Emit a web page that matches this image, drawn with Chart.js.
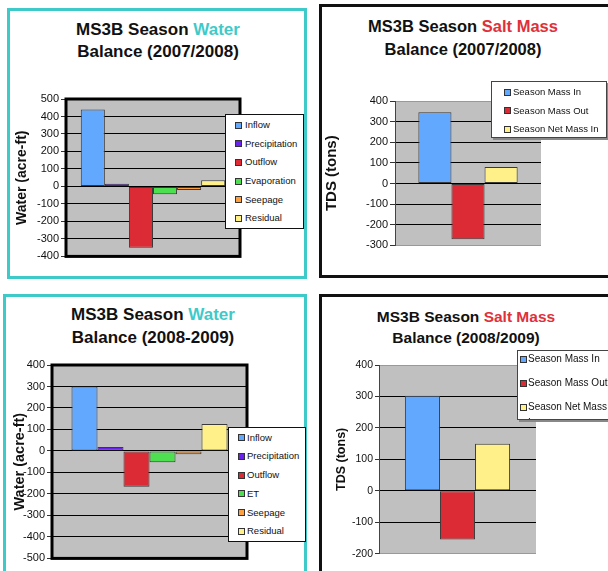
<!DOCTYPE html>
<html>
<head>
<meta charset="utf-8">
<script src="https://cdn.jsdelivr.net/npm/chart.js@4.4.1/dist/chart.umd.min.js"></script>
<style>
    body { margin: 0; background: #fff; font-family: 'Liberation Sans', Arial, sans-serif; }
    #page { position: relative; width: 608px; height: 571px; overflow: hidden; background: #fff; }
    .panel { position: absolute; box-sizing: border-box; border: 3px solid #111; }
    .panel.water { border-color: #3fcaca; }
    .title { position: absolute; text-align: center; font-weight: bold; color: #111; white-space: nowrap; }
    .title .water { color: #3fcaca; }
    .title .salt { color: #e0303a; }
    canvas { position: absolute; }
    .legend { position: absolute; box-sizing: border-box; background: #fff; border: 1px solid #111; overflow: hidden; z-index: 5; font-size: 9.5px; color: #111; }
    .legend.shadow { box-shadow: 2px 2px 0 #888; border-color: #444; }
    .legend .item { position: relative; }
    .legend .swatch { position: absolute; width: 5px; height: 5px; border: 1px solid #333; }
    .legend .text { position: absolute; white-space: normal; }
</style>
</head>
<body>
<div id="page">
    <div class="panel water" style="left:7px;top:8px;width:300px;height:271px;"></div>
    <div class="panel" style="left:319px;top:4px;width:300px;height:274px;"></div>
    <div class="panel water" style="left:3px;top:294px;width:304px;height:300px;"></div>
    <div class="panel" style="left:319px;top:294px;width:300px;height:300px;"></div>

    <div class="title" style="left:58px;top:19px;width:200px;font-size:17px;line-height:22px;">MS3B Season <span class="water">Water</span><br>Balance (2007/2008)</div>
    <div class="title" style="left:353px;top:15px;width:220px;font-size:16.5px;line-height:23px;">MS3B Season <span class="salt">Salt Mass</span><br>Balance (2007/2008)</div>
    <div class="title" style="left:53px;top:303px;width:200px;font-size:17px;line-height:23px;">MS3B Season <span class="water">Water</span><br>Balance (2008-2009)</div>
    <div class="title" style="left:366px;top:306px;width:200px;font-size:15.5px;line-height:21px;">MS3B Season <span class="salt">Salt Mass</span><br>Balance (2008/2009)</div>

    <canvas id="chart1" width="240" height="175" style="left:8px;top:90px;"></canvas>
    <canvas id="chart2" width="230" height="162" style="left:322px;top:92px;"></canvas>
    <canvas id="chart3" width="249" height="211" style="left:6px;top:356px;"></canvas>
    <canvas id="chart4" width="222" height="206" style="left:324px;top:356px;"></canvas>

    <div class="legend" id="legend1" style="left:225px;top:114px;width:79px;height:115px;"></div>
    <div class="legend shadow" id="legend2" style="left:491px;top:81px;width:116px;height:57px;"></div>
    <div class="legend" id="legend3" style="left:228px;top:427px;width:78px;height:115px;"></div>
    <div class="legend shadow" id="legend4" style="left:517px;top:350px;width:100px;height:70px;font-size:10px;"></div>
</div>
<script>
// data
const waterCategories0708 = ['Inflow', 'Precipitation', 'Outflow', 'Evaporation', 'Seepage', 'Residual'];
const waterValues0708 = [440, 15, -350, -45, -20, 35];
const waterTicks0708 = [-400, -300, -200, -100, 0, 100, 200, 300, 400, 500];

const saltCategories = ['Season Mass In', 'Season Mass Out', 'Season Net Mass In'];
const saltValues0708 = [345, -270, 80];
const saltTicks0708 = [-300, -200, -100, 0, 100, 200, 300, 400];

const waterCategories0809 = ['Inflow', 'Precipitation', 'Outflow', 'ET', 'Seepage', 'Residual'];
const waterValues0809 = [300, 18, -167, -53, -15, 125];
const waterTicks0809 = [-500, -400, -300, -200, -100, 0, 100, 200, 300, 400];

const saltValues0809 = [302, -155, 150];
const saltTicks0809 = [-200, -100, 0, 100, 200, 300, 400];

const waterColors = ['#63a8ff', '#6a22f0', '#dd2b35', '#4ddf50', '#ffa040', '#fff08a'];
const saltColors = ['#63a8ff', '#dd2b35', '#fff08a'];

const FONT = "'Liberation Sans', Arial, sans-serif";

const plotFrame = {
    id: 'plotFrame',
    beforeDraw(chart, args, opts) {
        const { ctx, chartArea: a } = chart;
        ctx.save();
        ctx.fillStyle = '#c0c0c0';
        ctx.fillRect(a.left, a.top, a.width, a.height);
        ctx.restore();
    },
    afterDraw(chart, args, opts) {
        if (!opts.border) return;
        const { ctx, chartArea: a } = chart;
        ctx.save();
        ctx.strokeStyle = '#000';
        ctx.lineWidth = opts.border;
        ctx.strokeRect(a.left, a.top, a.width, a.height);
        ctx.restore();
    }
};

function createChart(canvasId, categories, values, colors, ticks, o) {
    const datasets = categories.map((name, i) => ({
        label: name,
        data: [values[i]],
        backgroundColor: colors[i],
        borderColor: '#3a3a3a',
        borderWidth: 1,
        borderSkipped: false
    }));
    const lo = ticks[0], hi = ticks[ticks.length - 1];
    new Chart(document.getElementById(canvasId), {
        type: 'bar',
        data: { labels: [''], datasets: datasets },
        plugins: [plotFrame],
        options: {
            responsive: false,
            animation: false,
            layout: { padding: { left: 0, top: 9, bottom: 8, right: o.right } },
            datasets: { bar: { barPercentage: 1, categoryPercentage: o.cat } },
            plugins: {
                legend: { display: false },
                tooltip: { enabled: false },
                plotFrame: { border: o.border }
            },
            scales: {
                x: { display: false },
                y: {
                    min: lo,
                    max: hi,
                    afterBuildTicks: scale => { scale.ticks = ticks.map(v => ({ value: v })); },
                    afterFit: scale => { scale.width = o.axisWidth; },
                    border: { display: true, color: '#444', width: 1 },
                    grid: {
                        color: ctx => (!o.border && (ctx.tick.value === lo || ctx.tick.value === hi)) ? '#999' : '#000',
                        tickColor: '#333',
                        tickLength: o.tickLength
                    },
                    ticks: {
                        padding: 2,
                        color: '#111',
                        font: { family: FONT, size: o.tickSize }
                    },
                    title: {
                        display: true,
                        text: o.yTitle,
                        color: '#111',
                        padding: { top: o.titlePad, bottom: 0 },
                        font: { family: FONT, size: o.titleSize, weight: 'bold' }
                    }
                }
            }
        }
    });
}

function createLegend(legendId, categories, colors, o) {
    const box = document.getElementById(legendId);
    box.style.paddingTop = o.padTop + 'px';
    categories.forEach((name, i) => {
        const item = document.createElement('div');
        item.className = 'item';
        item.style.height = o.step + 'px';
        item.innerHTML = `
            <span class="swatch" style="left:${o.swatchX}px;top:${o.line / 2 - 3.5}px;background:${colors[i]}"></span>
            <span class="text" style="left:${o.textX}px;top:0;line-height:${o.line}px;width:${o.textWidth}px">${name}</span>
        `;
        box.appendChild(item);
    });
}

window.onload = () => {
    createChart('chart1', waterCategories0708, waterValues0708, waterColors, waterTicks0708,
        { axisWidth: 58, right: 8, cat: 0.83, border: 3, tickLength: 5, tickSize: 11, yTitle: 'Water (acre-ft)', titleSize: 14, titlePad: 6 });
    createChart('chart2', saltCategories, saltValues0708, saltColors, saltTicks0708,
        { axisWidth: 73, right: 11, cat: 0.68, border: 0, tickLength: 5, tickSize: 11, yTitle: 'TDS (tons)', titleSize: 15, titlePad: 1 });
    createChart('chart3', waterCategories0809, waterValues0809, waterColors, waterTicks0809,
        { axisWidth: 46, right: 8, cat: 0.8, border: 3, tickLength: 5, tickSize: 11, yTitle: 'Water (acre-ft)', titleSize: 14.5, titlePad: 5 });
    createChart('chart4', saltCategories, saltValues0809, saltColors, saltTicks0809,
        { axisWidth: 55, right: 10, cat: 0.67, border: 0, tickLength: 4, tickSize: 10.5, yTitle: 'TDS (tons)', titleSize: 12.5, titlePad: 10 });

    createLegend('legend1', waterCategories0708, waterColors, { padTop: 1, step: 18.7, line: 18, swatchX: 9, textX: 19, textWidth: 70 });
    createLegend('legend2', saltCategories, saltColors, { padTop: 1, step: 18.5, line: 18, swatchX: 12, textX: 21, textWidth: 110 });
    createLegend('legend3', waterCategories0809, waterColors, { padTop: 0.5, step: 18.8, line: 18, swatchX: 9, textX: 18, textWidth: 70 });
    createLegend('legend4', saltCategories, saltColors, { padTop: 0, step: 24, line: 16, swatchX: 2, textX: 10, textWidth: 84 });
};
</script>
</body>
</html>
